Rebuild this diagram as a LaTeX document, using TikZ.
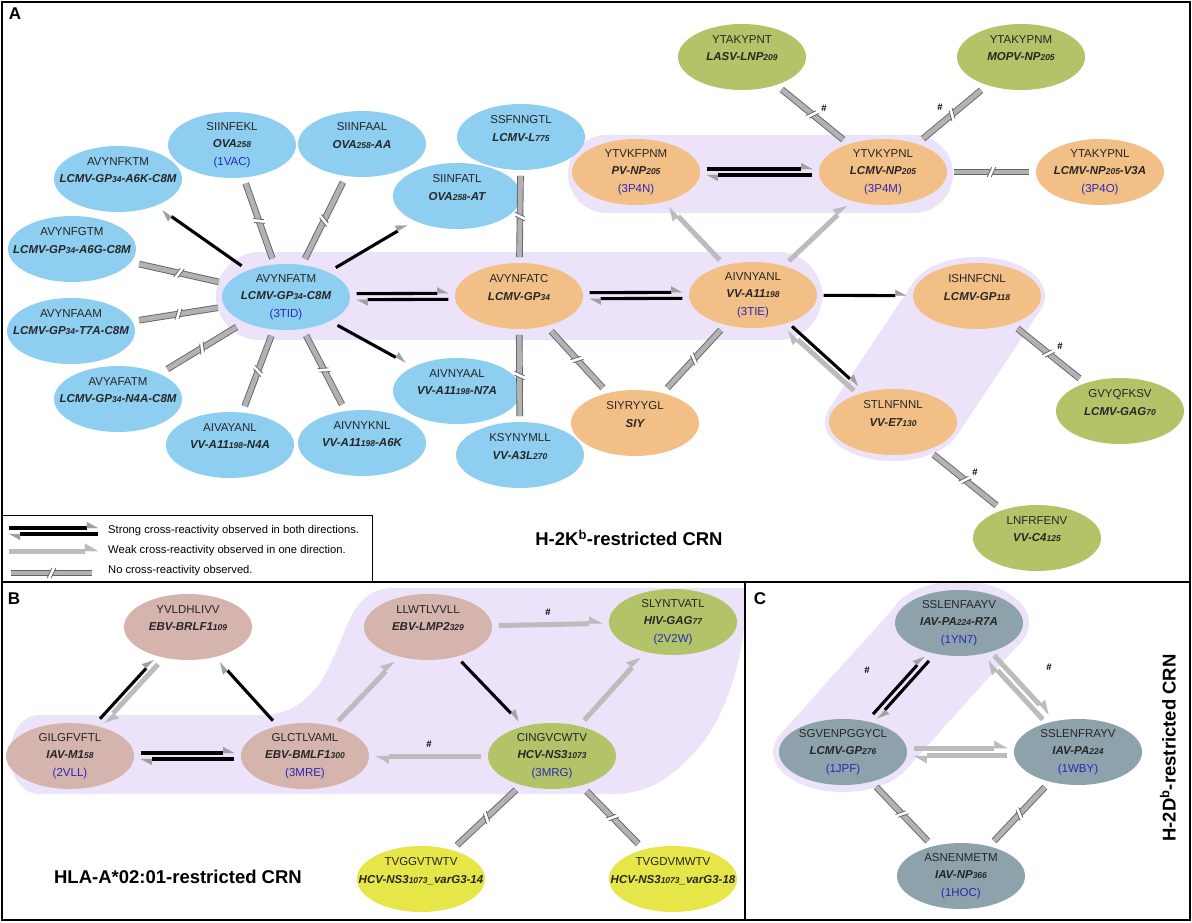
\documentclass[tikz,border=0pt]{standalone}
\usepackage{fontspec}
\setmainfont{Liberation Sans}
\usetikzlibrary{shapes.geometric,arrows.meta,calc}
\definecolor{cBlue}{RGB}{142,206,240}
\definecolor{cOrange}{RGB}{242,192,134}
\definecolor{cGreen}{RGB}{178,195,104}
\definecolor{cYellow}{RGB}{230,230,72}
\definecolor{cPink}{RGB}{214,180,174}
\definecolor{cGrey}{RGB}{142,162,172}
\definecolor{cHalo}{RGB}{236,227,250}
\definecolor{cId}{RGB}{40,40,185}
\definecolor{cWeak}{RGB}{188,188,188}
\definecolor{cHead}{RGB}{160,160,160}
\definecolor{cNcIn}{RGB}{178,178,178}
\definecolor{cNcOut}{RGB}{100,100,100}
\newcommand\nm[1]{{\bfseries\itshape #1}}
\newcommand\smnum[1]{{\fontsize{8.5}{8.5}\selectfont #1}}
\newcommand\pdb[1]{\textcolor{cId}{#1}}
\newcommand\pthree[3]{#1\\\nm{#2}\\\pdb{#3}}
\newcommand\ptwo[2]{#1\\\nm{#2}\\\mbox{}}
\newcommand\conn[4]{%
  \draw[#1] let \p1=(#2), \p2=(#3),
    \n1={atan2(\y2-\y1,\x2-\x1)},
    \n2={1/sqrt((cos(\n1)/70)^2+(sin(\n1)/39)^2)} in
    ($(\p1)+(\n1:\n2)+(\n1+90:#4)$) -- ($(\p2)+(\n1+180:\n2)+(\n1+90:#4)$);}
\newcommand\brkmark[2]{%
  \fill[white] let \p1=(#1), \p2=(#2), \n1={atan2(\y2-\y1,\x2-\x1)} in
    ($(\p1)!.5!(\p2)+(\n1+65:5.5)+(\n1+180:2)$) -- ($(\p1)!.5!(\p2)+(\n1+65:5.5)+(\n1:2)$) --
    ($(\p1)!.5!(\p2)+(\n1+245:5.5)+(\n1:2)$) -- ($(\p1)!.5!(\p2)+(\n1+245:5.5)+(\n1+180:2)$) -- cycle;
  \draw[cNcOut, line width=0.8pt] let \p1=(#1), \p2=(#2), \n1={atan2(\y2-\y1,\x2-\x1)} in
    ($(\p1)!.5!(\p2)+(\n1+65:5.5)+(\n1+180:2)$) -- ($(\p1)!.5!(\p2)+(\n1+245:5.5)+(\n1+180:2)$)
    ($(\p1)!.5!(\p2)+(\n1+65:5.5)+(\n1:2)$) -- ($(\p1)!.5!(\p2)+(\n1+245:5.5)+(\n1:2)$);}
\newcommand\ncx[2]{\conn{nc}{#1}{#2}{0}\brkmark{#1}{#2}}
\newcommand\strg[2]{\conn{blk}{#1}{#2}{3}\conn{blk}{#2}{#1}{3}}
\begin{document}
\begin{tikzpicture}[x=1pt,y=1pt,
  pep/.style={ellipse, minimum width=128pt, minimum height=66pt, inner xsep=-25pt, inner ysep=-12pt,
    align=center, font=\fontsize{11.5}{17.5}\selectfont, text=black!85},
  nblue/.style={pep, fill=cBlue}, norange/.style={pep, fill=cOrange},
  ngreen/.style={pep, fill=cGreen}, nyellow/.style={pep, fill=cYellow},
  npink/.style={pep, fill=cPink}, ngrey/.style={pep, fill=cGrey},
  halo/.style={fill=cHalo},
  blk/.style={draw=black, line width=3.1pt,
    -{Triangle[harpoon, length=11pt, width=12pt, color=cHead, line width=0.1pt]}},
  wk/.style={draw=cWeak, line width=5pt,
    -{Triangle[harpoon, length=13pt, width=15pt, color=cWeak, line width=0.1pt]}},
  nc/.style={draw=cNcOut, line width=0.9pt, double=cNcIn, double distance=4.8pt},
  hash/.style={font=\bfseries\fontsize{9.5}{9.5}\selectfont, inner sep=0pt},
  title/.style={font=\bfseries\fontsize{18.5}{21}\selectfont, inner sep=0pt},
  plabel/.style={font=\bfseries\fontsize{17}{20}\selectfont, inner sep=0pt},
  legtext/.style={font=\fontsize{11.2}{13}\selectfont, anchor=west, inner sep=0pt}]
\useasboundingbox (0,0) rectangle (1192,-923);
\fill[white] (0,0) rectangle (1192,-923);
% ---------- halos panel A
\fill[halo, rounded corners=44pt] (216,-252) rectangle (822,-340);
\fill[halo] (286,-297) ellipse [x radius=70, y radius=42];
\fill[halo] (753,-295) ellipse [x radius=70, y radius=42];
\fill[halo, rounded corners=39pt] (568,-135) rectangle (953,-213);
\fill[halo] (977,-296) ellipse [x radius=68, y radius=39];
\fill[halo] (893,-422) ellipse [x radius=68, y radius=39];
\fill[halo] (1040.5,-309.9) -- (956.5,-435.9) -- (829.5,-408.1) -- (913.5,-282.1) -- cycle;
% ---------- halos panel B
\begin{scope}
\clip (2,-582) rectangle (745,-920);
\fill[halo] (40,-715) -- (262,-715) .. controls (290,-715) and (308,-700) .. (322,-680)
  .. controls (340,-650) and (348,-612) .. (363,-600) .. controls (371,-592) and (380,-588) .. (395,-588)
  -- (745,-588) -- (745,-615)
  .. controls (743,-660) and (725,-720) .. (695,-752) .. controls (670,-778) and (650,-794) .. (610,-794)
  -- (40,-794) .. controls (0,-794) and (0,-715) .. (40,-715) -- cycle;
\end{scope}
% ---------- halos panel C
\begin{scope}
\clip (745,-582) rectangle (1190,-920);
\fill[halo] (959,-623) ellipse [x radius=70, y radius=42];
\fill[halo] (843,-752) ellipse [x radius=70, y radius=40];
\fill[halo] (896.7,-604.7) -- (1021.3,-641.3) -- (905.3,-770.3) -- (780.7,-733.7) -- cycle;
\end{scope}
% ---------- frames
\draw[line width=1.2pt] (2,-2) rectangle (1190,-920);
\draw[line width=1.2pt] (2,-582) -- (1190,-582);
\draw[line width=1.2pt] (745,-582) -- (745,-920);
\draw[line width=0.9pt] (2,-515) rectangle (372,-582);
% ---------- nodes panel A
\node[nblue] (n1) at (232,-145) {\pthree{SIINFEKL}{OVA\smnum{258}}{(1VAC)}};
\node[nblue] (n2) at (362,-144) {\ptwo{SIINFAAL}{OVA\smnum{258}-AA}};
\node[nblue] (n3) at (118,-179) {\ptwo{AVYNFKTM}{LCMV-GP\smnum{34}-A6K-C8M}};
\node[nblue] (n4) at (457,-196) {\ptwo{SIINFATL}{OVA\smnum{258}-AT}};
\node[nblue] (n5) at (521,-137) {\ptwo{SSFNNGTL}{LCMV-L\smnum{775}}};
\node[nblue] (n6) at (72,-249) {\ptwo{AVYNFGTM}{LCMV-GP\smnum{34}-A6G-C8M}};
\node[nblue] (n7) at (71,-331) {\ptwo{AVYNFAAM}{LCMV-GP\smnum{34}-T7A-C8M}};
\node[nblue] (n8) at (118,-399) {\ptwo{AVYAFATM}{LCMV-GP\smnum{34}-N4A-C8M}};
\node[nblue] (n9) at (286,-297) {\pthree{AVYNFATM}{LCMV-GP\smnum{34}-C8M}{(3TID)}};
\node[norange] (n10) at (519,-296) {\ptwo{AVYNFATC}{LCMV-GP\smnum{34}}};
\node[norange] (n11) at (753,-295) {\pthree{AIVNYANL}{VV-A11\smnum{198}}{(3TIE)}};
\node[nblue] (n12) at (457,-391) {\ptwo{AIVNYAAL}{VV-A11\smnum{198}-N7A}};
\node[nblue] (n13) at (230,-445) {\ptwo{AIVAYANL}{VV-A11\smnum{198}-N4A}};
\node[nblue] (n14) at (362,-443) {\ptwo{AIVNYKNL}{VV-A11\smnum{198}-A6K}};
\node[nblue] (n15) at (520,-455) {\ptwo{KSYNYMLL}{VV-A3L\smnum{270}}};
\node[norange] (n16) at (635,-423) {\ptwo{SIYRYYGL}{SIY}};
\node[norange] (n17) at (636,-172) {\pthree{YTVKFPNM}{PV-NP\smnum{205}}{(3P4N)}};
\node[norange] (n18) at (883,-172) {\pthree{YTVKYPNL}{LCMV-NP\smnum{205}}{(3P4M)}};
\node[ngreen] (n19) at (742,-57) {\ptwo{YTAKYPNT}{LASV-LNP\smnum{209}}};
\node[ngreen] (n20) at (1021,-57) {\ptwo{YTAKYPNM}{MOPV-NP\smnum{205}}};
\node[norange] (n21) at (1100,-172) {\pthree{YTAKYPNL}{LCMV-NP\smnum{205}-V3A}{(3P4O)}};
\node[norange] (n22) at (977,-296) {\ptwo{ISHNFCNL}{LCMV-GP\smnum{118}}};
\node[norange] (n23) at (893,-422) {\ptwo{STLNFNNL}{VV-E7\smnum{130}}};
\node[ngreen] (n24) at (1120,-411) {\ptwo{GVYQFKSV}{LCMV-GAG\smnum{70}}};
\node[ngreen] (n25) at (1037,-538) {\ptwo{LNFRFENV}{VV-C4\smnum{125}}};
% ---------- nodes panel B
\node[npink] (b1) at (188,-627) {\ptwo{YVLDHLIVV}{EBV-BRLF1\smnum{109}}};
\node[npink] (b2) at (70,-756) {\pthree{GILGFVFTL}{IAV-M1\smnum{58}}{(2VLL)}};
\node[npink] (b3) at (305,-756) {\pthree{GLCTLVAML}{EBV-BMLF1\smnum{300}}{(3MRE)}};
\node[npink] (b4) at (428,-627) {\ptwo{LLWTLVVLL}{EBV-LMP2\smnum{329}}};
\node[ngreen] (b5) at (673,-622) {\pthree{SLYNTVATL}{HIV-GAG\smnum{77}}{(2V2W)}};
\node[ngreen] (b6) at (552,-756) {\pthree{CINGVCWTV}{HCV-NS3\smnum{1073}}{(3MRG)}};
\node[nyellow] (b7) at (421,-879) {\ptwo{TVGGVTWTV}{HCV-NS3\smnum{1073}\_varG3-14}};
\node[nyellow] (b8) at (673,-879) {\ptwo{TVGDVMWTV}{HCV-NS3\smnum{1073}\_varG3-18}};
% ---------- nodes panel C
\node[ngrey] (c1) at (959,-623) {\pthree{SSLENFAAYV}{IAV-PA\smnum{224}-R7A}{(1YN7)}};
\node[ngrey] (c2) at (843,-752) {\pthree{SGVENPGGYCL}{LCMV-GP\smnum{276}}{(1JPF)}};
\node[ngrey] (c3) at (1078,-752) {\pthree{SSLENFRAYV}{IAV-PA\smnum{224}}{(1WBY)}};
\node[ngrey] (c4) at (961,-876) {\pthree{ASNENMETM}{IAV-NP\smnum{366}}{(1HOC)}};
% ---------- connectors panel A
\conn{blk}{n9}{n3}{0}
\ncx{n9}{n1}
\ncx{n9}{n2}
\conn{blk}{n9}{n4}{0}
\ncx{n9}{n6}
\ncx{n9}{n7}
\ncx{n9}{n8}
\ncx{n9}{n13}
\ncx{n9}{n14}
\conn{blk}{n9}{n12}{0}
\strg{n9}{n10}
\ncx{n10}{n5}
\ncx{n10}{n15}
\ncx{n10}{n16}
\strg{n10}{n11}
\ncx{n11}{n16}
\conn{wk}{n11}{n17}{0}
\conn{wk}{n11}{n18}{0}
\conn{blk}{n11}{n22}{0}
\conn{blk}{n11}{n23}{3}
\conn{wk}{n23}{n11}{3}
\strg{n17}{n18}
\ncx{n18}{n19}
\ncx{n18}{n20}
\ncx{n18}{n21}
\ncx{n22}{n24}
\ncx{n23}{n25}
\node[hash] (h1) at (824,-108) {\#};
\node[hash] (h2) at (940,-107) {\#};
\node[hash] (h3) at (1060,-346) {\#};
\node[hash] (h4) at (975,-472) {\#};
% ---------- connectors panel B
\conn{blk}{b2}{b1}{3}
\conn{wk}{b1}{b2}{3}
\conn{blk}{b3}{b1}{0}
\strg{b2}{b3}
\conn{wk}{b3}{b4}{0}
\conn{blk}{b4}{b6}{0}
\conn{wk}{b4}{b5}{0}
\conn{wk}{b6}{b3}{0}
\conn{wk}{b6}{b5}{0}
\ncx{b6}{b7}
\ncx{b6}{b8}
\node[hash] (h5) at (548,-612) {\#};
\node[hash] (h6) at (429,-744) {\#};
% ---------- connectors panel C
\strg{c2}{c1}
\conn{wk}{c1}{c3}{3.8}
\conn{wk}{c3}{c1}{3.8}
\conn{wk}{c2}{c3}{3.8}
\conn{wk}{c3}{c2}{3.8}
\ncx{c2}{c4}
\ncx{c3}{c4}
\node[hash] (h7) at (867,-670) {\#};
\node[hash] (h8) at (1049,-667) {\#};
% ---------- legend
\coordinate (ls1) at (9,-531); \coordinate (ls2) at (98,-531);
\draw[blk] ([yshift=3pt]ls1) -- ([yshift=3pt]ls2);
\draw[blk] ([yshift=-3pt]ls2) -- ([yshift=-3pt]ls1);
\coordinate (lw1) at (9,-551); \coordinate (lw2) at (98,-551);
\draw[wk] (lw1) -- (lw2);
\coordinate (ln1) at (11,-573); \coordinate (ln2) at (92,-573);
\draw[nc] (ln1) -- (ln2);
\brkmark{ln1}{ln2}
\node[legtext] (lt1) at (108,-531) {Strong cross-reactivity observed in both directions.};
\node[legtext] (lt2) at (108,-551) {Weak cross-reactivity observed in one direction.};
\node[legtext] (lt3) at (108,-571) {No cross-reactivity observed.};
% ---------- titles
\node[title] (tA) at (629,-538) {H-2K\textsuperscript{b}-restricted CRN};
\node[title] (tB) at (178,-877) {HLA-A*02:01-restricted CRN};
\node[title, rotate=90] (tC) at (1168,-748) {H-2D\textsuperscript{b}-restricted CRN};
\node[plabel] (pA) at (15,-14) {A};
\node[plabel] (pB) at (14,-599) {B};
\node[plabel] (pC) at (760,-599) {C};
\end{tikzpicture}
\end{document}
